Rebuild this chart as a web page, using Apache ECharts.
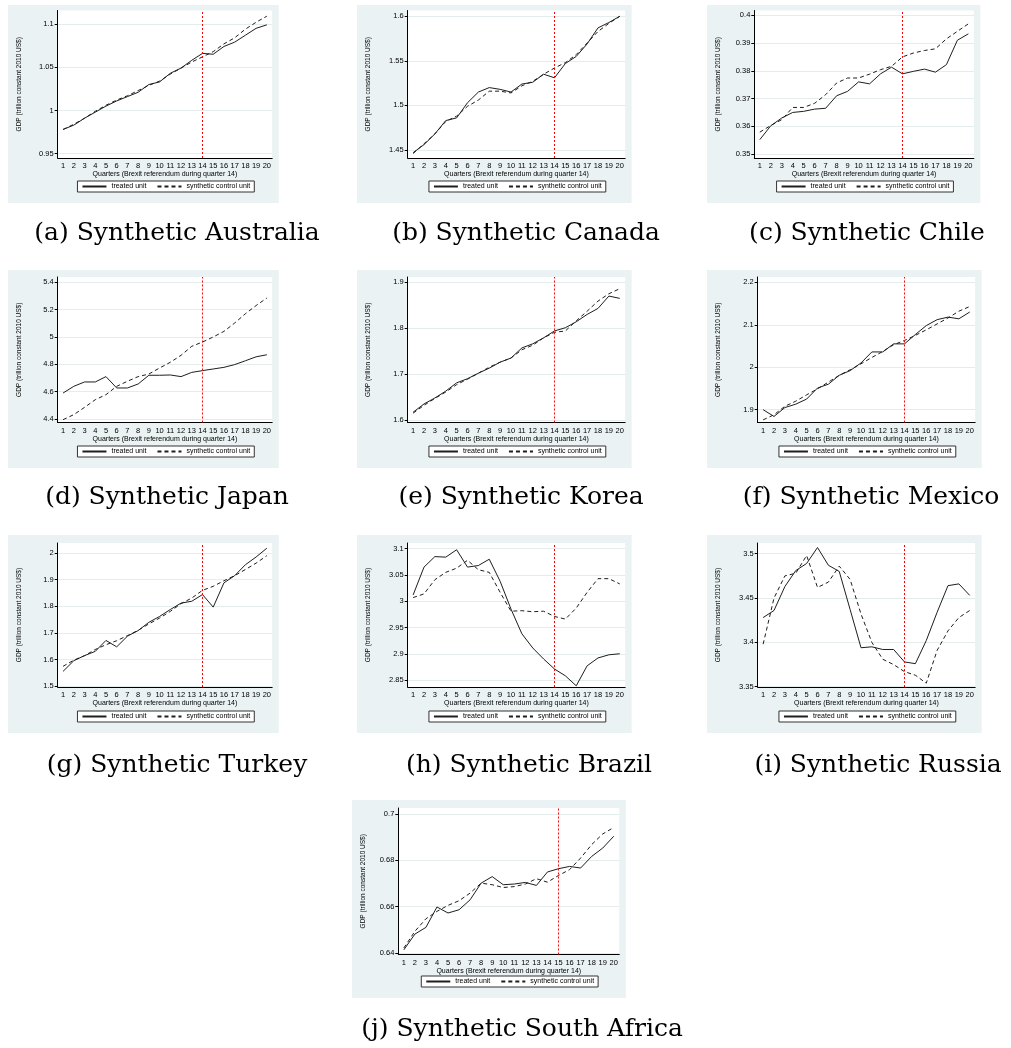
<!DOCTYPE html>
<html><head><meta charset="utf-8">
<script src="https://cdn.jsdelivr.net/npm/echarts@6/dist/echarts.min.js"></script>
<style>html,body{margin:0;padding:0;background:#fff}#c{width:1011px;height:1048px}</style>
</head><body><div id="c"></div>
<script>
// ---------- data ----------
const quarters = ['1','2','3','4','5','6','7','8','9','10','11','12','13','14','15','16','17','18','19','20'];
const seriesNames = ['treated unit', 'synthetic control unit'];
const xTitle = 'Quarters (Brexit referendum during quarter 14)';
const yTitle = 'GDP (trillion constant 2010 US$)';

const australiaTreated   = [0.978,0.983,0.991,0.998,1.005,1.011,1.016,1.021,1.030,1.033,1.043,1.049,1.058,1.066,1.065,1.074,1.079,1.087,1.095,1.099];
const australiaSynthetic = [0.978,0.984,0.991,0.999,1.006,1.012,1.017,1.023,1.029,1.034,1.042,1.049,1.056,1.062,1.068,1.077,1.084,1.094,1.102,1.109];
const australiaTicks = [0.95,1,1.05,1.1];

const canadaTreated   = [1.447,1.456,1.468,1.483,1.486,1.503,1.515,1.520,1.518,1.515,1.524,1.526,1.535,1.531,1.547,1.555,1.569,1.587,1.593,1.600];
const canadaSynthetic = [1.446,1.457,1.468,1.482,1.488,1.499,1.506,1.516,1.516,1.514,1.522,1.527,1.535,1.542,1.548,1.557,1.570,1.583,1.592,1.600];
const canadaTicks = [1.45,1.5,1.55,1.6];

const chileTreated   = [0.3552,0.3602,0.3630,0.3650,0.3654,0.3662,0.3665,0.3710,0.3726,0.3760,0.3753,0.3789,0.3813,0.3789,0.3798,0.3806,0.3795,0.3822,0.3910,0.3933];
const chileSynthetic = [0.3579,0.3603,0.3624,0.3668,0.3668,0.3683,0.3714,0.3756,0.3774,0.3774,0.3788,0.3804,0.3816,0.3850,0.3864,0.3873,0.3879,0.3915,0.3942,0.3969];
const chileTicks = [0.35,0.36,0.37,0.38,0.39,0.4];

const japanTreated   = [4.590,4.639,4.671,4.671,4.710,4.627,4.627,4.656,4.720,4.720,4.722,4.710,4.741,4.754,4.766,4.778,4.798,4.826,4.855,4.870];
const japanSynthetic = [4.395,4.432,4.485,4.541,4.578,4.639,4.676,4.710,4.729,4.773,4.815,4.866,4.932,4.963,5.000,5.041,5.102,5.170,5.230,5.285];
const japanTicks = [4.4,4.6,4.8,5,5.2,5.4];

const koreaTreated   = [1.617,1.635,1.648,1.663,1.681,1.690,1.702,1.713,1.726,1.735,1.757,1.766,1.779,1.794,1.801,1.814,1.830,1.843,1.870,1.865];
const koreaSynthetic = [1.615,1.632,1.647,1.661,1.677,1.689,1.702,1.715,1.726,1.735,1.753,1.763,1.779,1.791,1.794,1.816,1.837,1.859,1.875,1.886];
const koreaTicks = [1.6,1.7,1.8,1.9];

const mexicoTreated   = [1.900,1.884,1.905,1.913,1.925,1.951,1.960,1.981,1.992,2.010,2.036,2.036,2.055,2.055,2.077,2.098,2.112,2.118,2.114,2.130];
const mexicoSynthetic = [1.876,1.888,1.908,1.920,1.935,1.949,1.965,1.981,1.994,2.008,2.023,2.037,2.053,2.063,2.075,2.088,2.102,2.116,2.132,2.143];
const mexicoTicks = [1.9,2,2.1,2.2];

const turkeyTreated   = [1.556,1.596,1.615,1.631,1.672,1.648,1.688,1.709,1.740,1.762,1.788,1.812,1.819,1.844,1.797,1.888,1.915,1.956,1.985,2.018];
const turkeySynthetic = [1.575,1.598,1.615,1.638,1.656,1.671,1.690,1.710,1.734,1.756,1.781,1.810,1.831,1.860,1.875,1.896,1.915,1.938,1.962,1.990];
const turkeyTicks = [1.5,1.6,1.7,1.8,1.9,2];

const brazilTreated   = [3.012,3.065,3.085,3.084,3.098,3.065,3.068,3.080,3.038,2.985,2.938,2.911,2.890,2.871,2.858,2.839,2.877,2.892,2.898,2.900];
const brazilSynthetic = [3.007,3.014,3.041,3.055,3.063,3.078,3.060,3.055,3.017,2.981,2.982,2.980,2.981,2.971,2.966,2.987,3.017,3.043,3.043,3.033];
const brazilTicks = [2.85,2.9,2.95,3,3.05,3.1];

const russiaTreated   = [3.428,3.436,3.463,3.481,3.489,3.507,3.487,3.480,3.437,3.394,3.395,3.392,3.392,3.378,3.376,3.402,3.434,3.464,3.466,3.453];
const russiaSynthetic = [3.398,3.450,3.475,3.478,3.498,3.462,3.468,3.486,3.471,3.432,3.400,3.381,3.375,3.367,3.363,3.354,3.391,3.413,3.428,3.436];
const russiaTicks = [3.35,3.4,3.45,3.5];

const southAfricaTreated   = [0.6414,0.6482,0.6511,0.6599,0.6573,0.6587,0.6630,0.6702,0.6730,0.6695,0.6698,0.6705,0.6692,0.6750,0.6764,0.6774,0.6767,0.6817,0.6853,0.6904];
const southAfricaSynthetic = [0.6422,0.6494,0.6548,0.6580,0.6606,0.6626,0.6659,0.6702,0.6695,0.6683,0.6687,0.6698,0.6721,0.6706,0.6735,0.6760,0.6810,0.6868,0.6914,0.6942];
const southAfricaTicks = [0.64,0.66,0.68,0.7];

const captions = ['(a) Synthetic Australia','(b) Synthetic Canada','(c) Synthetic Chile','(d) Synthetic Japan','(e) Synthetic Korea','(f) Synthetic Mexico','(g) Synthetic Turkey','(h) Synthetic Brazil','(i) Synthetic Russia','(j) Synthetic South Africa'];
const markerQuarters = ['14','14','14','14','14','14','14','14','14','15'];

// ---------- layout ----------
const panels = [
  {tr:australiaTreated, sy:australiaSynthetic, ticks:australiaTicks, ymin:0.945, ymax:1.1156, L:8,   T:5,   pl:57.7,  pr:272.2,  pt:10.5, ax:158,   cx:177, cy:233},
  {tr:canadaTreated,    sy:canadaSynthetic,    ticks:canadaTicks,    ymin:1.441, ymax:1.6065, L:357, T:5,   pl:407.7, pr:625.18, pt:10.5, ax:158,   cx:526, cy:233},
  {tr:chileTreated,     sy:chileSynthetic,     ticks:chileTicks,     ymin:0.3486,ymax:0.4017, L:707, T:5,   pl:754.3, pr:973.86, pt:10.5, ax:158,   cx:867, cy:233},
  {tr:japanTreated,     sy:japanSynthetic,     ticks:japanTicks,     ymin:4.3744,ymax:5.4388, L:8,   T:270, pl:57.7,  pr:272.2,  pt:277,  ax:422.5, cx:167, cy:497},
  {tr:koreaTreated,     sy:koreaSynthetic,     ticks:koreaTicks,     ymin:1.5946,ymax:1.9115, L:357, T:270, pl:407.7, pr:625.18, pt:277,  ax:422.5, cx:521, cy:497},
  {tr:mexicoTreated,    sy:mexicoSynthetic,    ticks:mexicoTicks,    ymin:1.8698,ymax:2.2125, L:707, T:270, pl:757.7, pr:975.18, pt:277,  ax:422.5, cx:871, cy:497},
  {tr:turkeyTreated,    sy:turkeySynthetic,    ticks:turkeyTicks,    ymin:1.4974,ymax:2.0375, L:8,   T:535, pl:57.7,  pr:272.2,  pt:543,  ax:687,   cx:177, cy:765},
  {tr:brazilTreated,    sy:brazilSynthetic,    ticks:brazilTicks,    ymin:2.8367,ymax:3.1109, L:357, T:535, pl:407.7, pr:625.18, pt:543,  ax:687,   cx:529, cy:765},
  {tr:russiaTreated,    sy:russiaSynthetic,    ticks:russiaTicks,    ymin:3.3497,ymax:3.5121, L:707, T:535, pl:757.7, pr:975.18, pt:543,  ax:687,   cx:878, cy:765},
  {tr:southAfricaTreated,sy:southAfricaSynthetic,ticks:southAfricaTicks,ymin:0.6394,ymax:0.7026,L:352,T:800, pl:398.3, pr:619.27, pt:808,  ax:954.5, cx:522, cy:1029}
];

const FONT = '"Liberation Sans", Arial, Helvetica, sans-serif';
const LINE = '#1e1e1e';
const RED = '#ff0000';
const option = {animation:false, grid:[], xAxis:[], yAxis:[], series:[], legend:[], graphic:[]};

panels.forEach((p, i) => {
  option.graphic.push({type:'rect', z:-10, silent:true,
    shape:{x:p.L, y:p.T, width:p.pr + 6.5 - p.L, height:198}, style:{fill:'#eaf2f3'}});
  option.graphic.push({type:'text', silent:true, x:p.cx, y:p.cy,
    style:{text:captions[i], font:'25px "DejaVu Serif", serif', fill:'#000',
      align:'center', verticalAlign:'middle', textAlign:'center', textVerticalAlign:'middle'}});
  option.grid.push({left:p.pl, top:p.pt, width:p.pr - p.pl, height:p.ax - p.pt,
    show:true, backgroundColor:'#fff', borderWidth:0, borderColor:'transparent'});
  option.xAxis.push({type:'category', gridIndex:i, data:quarters, boundaryGap:true,
    axisLine:{lineStyle:{color:'#000', width:1}},
    axisTick:{alignWithLabel:true, interval:0, length:3, lineStyle:{color:'#000'}},
    axisLabel:{interval:0, fontSize:7.5, margin:4, color:'#000', fontFamily:FONT},
    splitLine:{show:false},
    name:xTitle, nameLocation:'middle', nameGap:10,
    nameTextStyle:{fontSize:7, color:'#000', fontFamily:FONT}});
  option.yAxis.push({type:'value', gridIndex:i, min:p.ymin, max:p.ymax,
    axisLine:{show:true, lineStyle:{color:'#000', width:1}},
    axisTick:{show:true, length:3, customValues:p.ticks, lineStyle:{color:'#000'}},
    axisLabel:{customValues:p.ticks, fontSize:7.5, margin:4, color:'#000', fontFamily:FONT},
    splitLine:{show:true, lineStyle:{color:'#e4eced', width:1}},
    name:yTitle, nameLocation:'middle', nameRotate:90, nameGap:p.pl - p.L - 15,
    nameTextStyle:{fontSize:6.5, color:'#000', fontFamily:FONT}});
  option.series.push({type:'line', name:seriesNames[0], xAxisIndex:i, yAxisIndex:i, data:p.tr,
    symbol:'none', color:LINE, lineStyle:{color:LINE, width:1}, itemStyle:{color:LINE}, z:3});
  option.series.push({type:'line', name:seriesNames[1], xAxisIndex:i, yAxisIndex:i, data:p.sy,
    symbol:'none', color:LINE, lineStyle:{color:LINE, width:1, type:[4,3]}, itemStyle:{color:LINE}, z:3,
    markLine:{silent:true, symbol:['none','none'], label:{show:false}, z:5,
      emphasis:{disabled:true},
      itemStyle:{color:RED},
      lineStyle:{color:RED, type:[2,2], width:1, opacity:1},
      data:[{xAxis:markerQuarters[i], lineStyle:{color:RED, type:[2,2], width:1}, itemStyle:{color:RED}}]}});
  option.legend.push({left:(p.pl + p.pr) / 2 - 87.5, top:p.T + 176, data:seriesNames,
    itemWidth:24, itemHeight:8, itemGap:10, padding:[2,4],
    itemStyle:{opacity:0},
    borderColor:'#333', borderWidth:1, borderRadius:0, backgroundColor:'#fff',
    selectedMode:false, textStyle:{fontSize:7, color:'#000', fontFamily:FONT}});
});

const chart = echarts.init(document.getElementById('c'), null, {renderer:'canvas'});
chart.setOption(option);
</script>
</body></html>
